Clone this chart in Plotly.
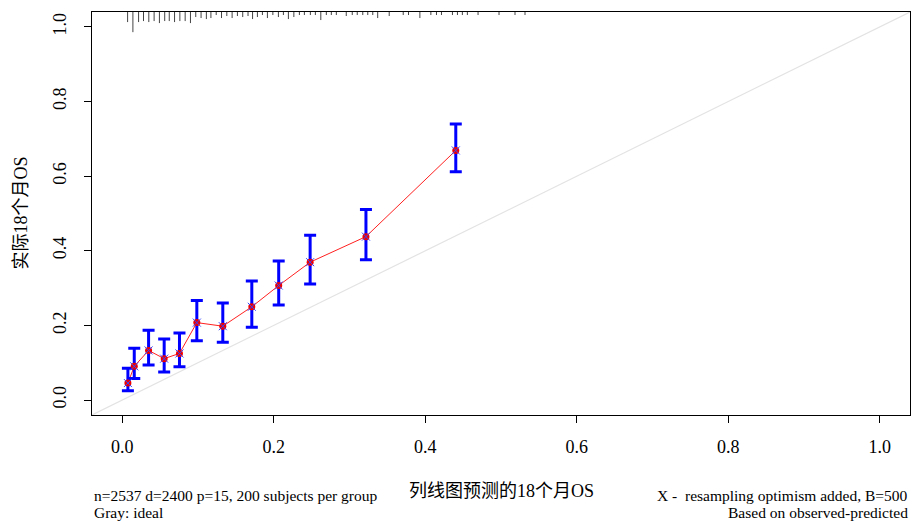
import plotly.graph_objects as go

# ---- data ----
pred = [0.0074, 0.0158, 0.0347, 0.0553, 0.0755, 0.0984, 0.1327, 0.171, 0.2065, 0.248, 0.3217, 0.4403]
obs = [0.0456, 0.0904, 0.133, 0.111, 0.125, 0.2076, 0.198, 0.250, 0.307, 0.3696, 0.438, 0.669]
obs_upper = [0.085, 0.139, 0.187, 0.164, 0.180, 0.267, 0.260, 0.319, 0.373, 0.442, 0.511, 0.740]
obs_lower = [0.025, 0.058, 0.094, 0.075, 0.089, 0.159, 0.155, 0.195, 0.255, 0.311, 0.376, 0.612]

rug_x = [0.007, 0.014, 0.0215, 0.028, 0.035, 0.042, 0.049, 0.056, 0.062, 0.069, 0.076, 0.083,
         0.090, 0.097, 0.104, 0.111, 0.117, 0.124, 0.131, 0.138, 0.145, 0.152, 0.159, 0.166,
         0.172, 0.1784, 0.185, 0.1916, 0.1988, 0.2061, 0.2127, 0.2193, 0.2265, 0.2338, 0.2404,
         0.2483, 0.2549, 0.2621, 0.2694, 0.276, 0.2826, 0.2957, 0.3036, 0.3102, 0.3175, 0.3241,
         0.3307, 0.3372, 0.3524, 0.3709, 0.3779, 0.3929, 0.4074, 0.4148, 0.4214, 0.4359,
         0.4425, 0.449, 0.4556, 0.4697, 0.4974, 0.5185, 0.5317]
rug_freq = [10, 20, 10, 9, 10, 9, 11, 9, 9, 10, 9, 9,
            11, 5, 6, 7, 6, 3, 6, 4, 6, 4, 5, 4,
            7, 5, 3, 6, 3, 5, 3, 7, 5, 3, 3,
            3, 3, 8, 3, 3, 3, 4, 3, 3, 3, 3,
            3, 6, 4, 3, 3, 6, 3, 3, 3, 3,
            3, 3, 3, 3, 3, 3, 3]

tick_vals = [0.0, 0.2, 0.4, 0.6, 0.8, 1.0]
tick_text = ["0.0", "0.2", "0.4", "0.6", "0.8", "1.0"]

x_title = "列线图预测的18个月OS"
y_title = "实际18个月OS"
note_left = ["n=2537 d=2400 p=15, 200 subjects per group", "Gray: ideal"]
note_right = ["X -  resampling optimism added, B=500", "Based on observed-predicted"]

# ---- figure ----
XR = [-0.04, 1.04]
YR = [-0.04, 1.04]
FONT = "Liberation Serif, Times New Roman, Noto Sans CJK SC, serif"

fig = go.Figure()

# ideal line
fig.add_trace(go.Scatter(x=XR, y=YR, mode="lines",
                         line=dict(color="#e3e3e3", width=1.2),
                         hoverinfo="skip", showlegend=False))

# rug (histogram spikes hanging from top)
top = YR[1]
mx = max(rug_freq)
rx, ry = [], []
for v, f in zip(rug_x, rug_freq):
    rx += [v, v, None]
    ry += [top, top - 0.054 * f / mx, None]
fig.add_trace(go.Scatter(x=rx, y=ry, mode="lines",
                         line=dict(color="#444444", width=1),
                         hoverinfo="skip", showlegend=False))

# red connecting line
fig.add_trace(go.Scatter(x=pred, y=obs, mode="lines",
                         line=dict(color="#ff2020", width=1),
                         showlegend=False))

# error bars + red dots
fig.add_trace(go.Scatter(
    x=pred, y=obs, mode="markers",
    marker=dict(color="#ee0000", size=7, symbol="circle"),
    error_y=dict(type="data", symmetric=False,
                 array=[u - o for u, o in zip(obs_upper, obs)],
                 arrayminus=[o - l for o, l in zip(obs, obs_lower)],
                 color="#0000ff", thickness=3, width=6),
    showlegend=False))

# blue X (bias-corrected)
fig.add_trace(go.Scatter(x=pred, y=obs, mode="markers",
                         marker=dict(symbol="x-thin", size=8,
                                     line=dict(color="#3344ff", width=1)),
                         showlegend=False))

axis_common = dict(
    tickvals=tick_vals, ticktext=tick_text,
    ticks="outside", ticklen=7, tickcolor="black", tickwidth=1,
    showline=True, linecolor="black", linewidth=1, mirror=True,
    showgrid=False, zeroline=False,
    tickfont=dict(family=FONT, size=18, color="black"),
)

fig.update_layout(
    width=911, height=521,
    margin=dict(l=92, r=1, t=12, b=106),
    paper_bgcolor="white", plot_bgcolor="white",
    xaxis=dict(range=XR, ticklabelstandoff=8, **axis_common),
    yaxis=dict(range=YR, tickangle=-90, ticklabelstandoff=11, **axis_common),
    font=dict(family=FONT, color="black"),
)

anns = [
    dict(text=x_title, x=0.5, y=0, xref="paper", yref="paper",
         xanchor="center", yanchor="middle", yshift=-76, showarrow=False,
         font=dict(size=18)),
    dict(text=y_title, x=0, y=0.5, xref="paper", yref="paper",
         xanchor="center", yanchor="middle", xshift=-72, textangle=-90,
         showarrow=False, font=dict(size=18)),
    dict(text=note_left[0], x=0, y=0, xref="paper", yref="paper",
         xanchor="left", yanchor="middle", yshift=-80, showarrow=False,
         font=dict(size=15.5)),
    dict(text=note_left[1], x=0, y=0, xref="paper", yref="paper",
         xanchor="left", yanchor="middle", yshift=-97, showarrow=False,
         font=dict(size=15.5)),
    dict(text=note_right[0], x=1, y=0, xref="paper", yref="paper",
         xanchor="right", yanchor="middle", yshift=-80, showarrow=False,
         font=dict(size=15.5)),
    dict(text=note_right[1], x=1, y=0, xref="paper", yref="paper",
         xanchor="right", yanchor="middle", yshift=-97, showarrow=False,
         font=dict(size=15.5)),
]
fig.update_layout(annotations=anns)

fig.write_html("out.html")
